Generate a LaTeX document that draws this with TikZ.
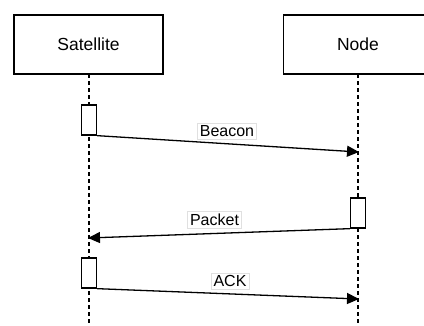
\documentclass[tikz,border=0pt]{standalone}
\usepackage{fontspec}
\setmainfont{Liberation Sans}
\usetikzlibrary{arrows.meta}
\begin{document}
\begin{tikzpicture}[x=1pt,y=-1pt,line width=1.3pt,
  actor/.style={draw,fill=white,minimum width=149pt,minimum height=59pt,inner sep=0pt,font=\fontsize{17.5}{20}\selectfont},
  act/.style={draw,fill=white,minimum width=15pt,minimum height=30pt,inner sep=0pt},
  life/.style={dash pattern=on 4pt off 3pt,line width=1.2pt},
  msg/.style={-{Triangle[length=12pt,width=11pt]},line width=1.3pt},
  lbl/.style={fill=white,draw=black!12,line width=0.6pt,inner sep=2.5pt,font=\fontsize{16}{19}\selectfont}]
\useasboundingbox (0,0) rectangle (424,325);
\clip (0,0) rectangle (424,325);
\fill[white] (0,0) rectangle (424,325);
\coordinate (satbot) at (89,326);
\coordinate (nodbot) at (358,326);
\draw[life] (89,74) -- (satbot);
\draw[life] (358,74) -- (nodbot);
\node[actor] (sat) at (88.5,44.5) {Satellite};
\node[actor] (nod) at (358,44.5) {Node};
\node[act] (a1) at (89,120) {};
\node[act] (a2) at (358,213) {};
\node[act] (a3) at (89,273) {};
\coordinate (e1) at (359,152);
\coordinate (e2) at (88,238);
\coordinate (e3) at (359,299);
\draw[msg] (a1.south east) -- (e1);
\draw[msg] (a2.south west) -- (e2);
\draw[msg] (a3.south east) -- (e3);
\node[lbl] (l1) at (227,131) {Beacon};
\node[lbl] (l2) at (214.5,220) {Packet};
\node[lbl] (l3) at (230,281) {ACK};
\end{tikzpicture}
\end{document}
